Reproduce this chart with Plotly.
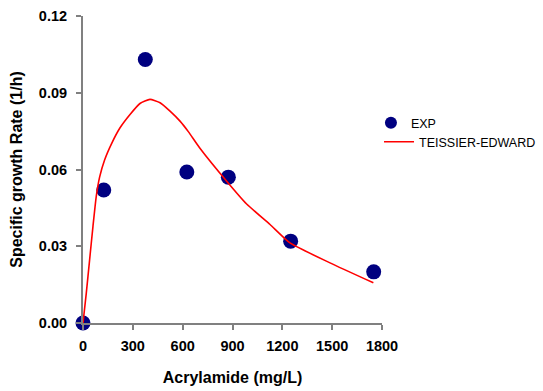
import plotly.graph_objects as go

# Experimental data
exp_x = [0, 125, 375, 625, 875, 1250, 1750]
exp_y = [0.0, 0.052, 0.103, 0.059, 0.057, 0.032, 0.020]

# Teissier-Edward model curve
model_x = [0, 20, 40, 60, 80, 100, 130, 175, 223, 283, 343, 403, 464, 524, 584, 634, 704,
           865, 985, 1126, 1246, 1487, 1748]
model_y = [0.0, 0.0118, 0.0248, 0.0378, 0.0496, 0.0570, 0.0637, 0.0705, 0.0763, 0.0815, 0.0858,
           0.0874, 0.0861, 0.0828, 0.0789, 0.0748, 0.0683, 0.0554, 0.0465, 0.0385, 0.0313,
           0.0235, 0.0157]

x_ticks = [0, 300, 600, 900, 1200, 1500, 1800]
y_ticks = [0.0, 0.03, 0.06, 0.09, 0.12]

FONT = "Liberation Sans, Arial, sans-serif"

fig = go.Figure()
fig.add_trace(go.Scatter(
    x=exp_x, y=exp_y, mode="markers", name="EXP",
    marker=dict(color="#000080", size=15),
    cliponaxis=False, legend="legend2", showlegend=True,
))
fig.add_trace(go.Scatter(
    x=model_x, y=model_y, mode="lines", name="TEISSIER-EDWARD",
    line=dict(color="#ff0000", width=1.6, shape="spline", smoothing=0.5),
    cliponaxis=False, legend="legend", showlegend=True,
))

axis_common = dict(
    showline=True, linecolor="#808080", linewidth=2,
    ticks="outside", tickcolor="#808080", tickwidth=2, ticklen=5,
    showgrid=False, zeroline=False,
    tickfont=dict(family=FONT, size=14.5, color="black", weight="bold"),
)

fig.update_xaxes(
    range=[0, 1800], tickvals=x_ticks, ticktext=[str(v) for v in x_ticks],
    ticklabelstandoff=4,
    title=dict(text="Acrylamide (mg/L)", font=dict(family=FONT, size=16, color="black", weight="bold"),
               standoff=18),
    **axis_common,
)
fig.update_yaxes(
    range=[0, 0.12], tickvals=y_ticks, ticktext=[f"{v:.2f}" for v in y_ticks],
    ticklabelstandoff=6,
    title=dict(text="Specific growth Rate (1/h)", font=dict(family=FONT, size=16, color="black", weight="bold"),
               standoff=12),
    **axis_common,
)

legend_font = dict(family=FONT, size=12.5, color="black")
fig.update_layout(
    width=543, height=391,
    showlegend=True,
    margin=dict(l=83, r=161, t=16, b=68, autoexpand=False),
    paper_bgcolor="white", plot_bgcolor="white",
    font=dict(family=FONT, color="black"),
    legend=dict(
        x=0.99, y=0.638, xanchor="left", yanchor="top",
        font=legend_font, bgcolor="rgba(0,0,0,0)",
    ),
    legend2=dict(
        x=0.963, y=0.70, xanchor="left", yanchor="top",
        font=legend_font, bgcolor="rgba(0,0,0,0)", itemsizing="constant",
    ),
)

fig.write_html("out.html")
